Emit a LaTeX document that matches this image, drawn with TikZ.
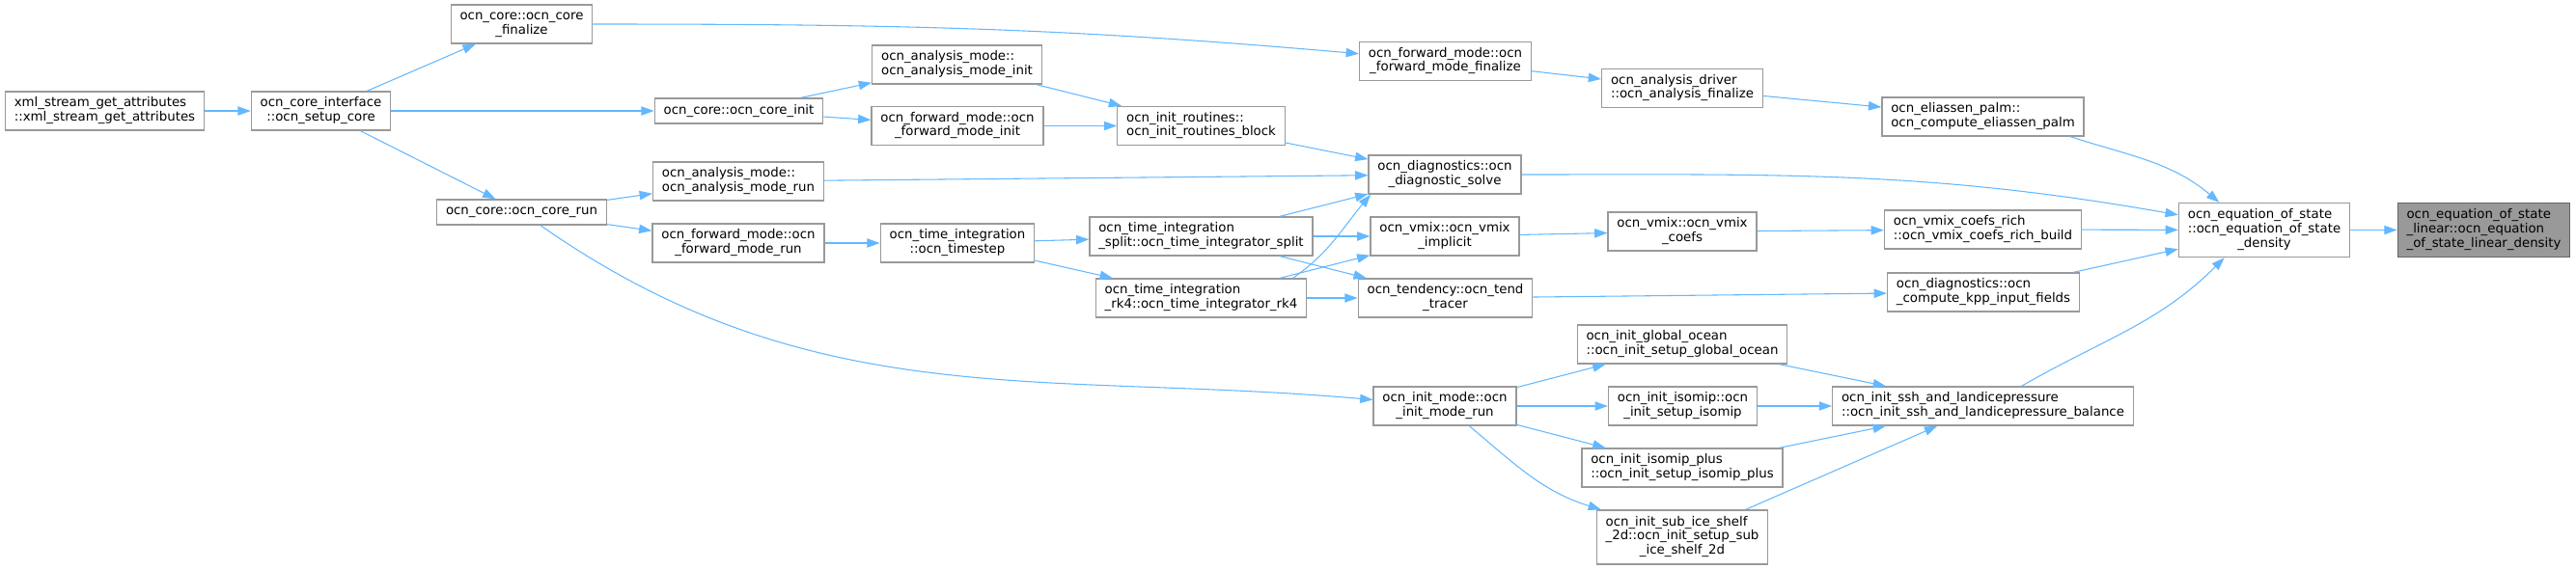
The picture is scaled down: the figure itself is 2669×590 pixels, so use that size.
\documentclass[tikz,border=0pt]{standalone}
\usepackage{fontspec}
\setmainfont{DejaVu Sans}
\usetikzlibrary{arrows.meta}
\definecolor{edgeblue}{HTML}{63B8FF}
\definecolor{boxgray}{HTML}{999999}
\definecolor{rootgray}{HTML}{666666}
\newcommand{\fnlab}[2]{\begin{tabular}{@{}l@{}}#1\\\multicolumn{1}{@{}c@{}}{#2}\end{tabular}}
\newcommand{\fnlabiii}[3]{\begin{tabular}{@{}l@{}}#1\\#2\\\multicolumn{1}{@{}c@{}}{#3}\end{tabular}}
\begin{document}
\begin{tikzpicture}[x=0.75pt,y=0.75pt,
  fn/.style={draw=boxgray, line width=1pt, fill=white, inner xsep=7pt, inner ysep=4pt,
    minimum height=30pt, font=\fontsize{10}{11}\selectfont},
  fnone/.style={fn, minimum height=19.5pt},
  fnthree/.style={fn, minimum height=42pt},
  edge/.style={draw=edgeblue, line width=0.8pt, -{Triangle[length=10pt,width=7pt]}}]
\useasboundingbox (0,0) rectangle (2669,-590);
\node[fn] (xml) at (108.5,-115) {\fnlab{xml\_stream\_get\_attributes}{::xml\_stream\_get\_attributes}};
\node[fn] (setup) at (332.5,-115) {\fnlab{ocn\_core\_interface}{::ocn\_setup\_core}};
\node[fn] (corefin) at (540.5,-25) {\fnlab{ocn\_core::ocn\_core}{\_finalize}};
\node[fnone] (corerun) at (540.5,-220) {ocn\_core::ocn\_core\_run};
\node[fnone] (coreinit) at (765.5,-115) {ocn\_core::ocn\_core\_init};
\node[fn] (anainit) at (991.5,-67) {\fnlab{ocn\_analysis\_mode::}{ocn\_analysis\_mode\_init}};
\node[fn] (fwdinit) at (992,-130.5) {\fnlab{ocn\_forward\_mode::ocn}{\_forward\_mode\_init}};
\node[fn] (initblk) at (1244.5,-130.5) {\fnlab{ocn\_init\_routines::}{ocn\_init\_routines\_block}};
\node[fn] (anarun) at (765,-188) {\fnlab{ocn\_analysis\_mode::}{ocn\_analysis\_mode\_run}};
\node[fn] (fwdrun) at (765,-252) {\fnlab{ocn\_forward\_mode::ocn}{\_forward\_mode\_run}};
\node[fn] (tstep) at (992,-252) {\fnlab{ocn\_time\_integration}{::ocn\_timestep}};
\node[fn] (tsplit) at (1244.5,-245) {\fnlab{ocn\_time\_integration}{\_split::ocn\_time\_integrator\_split}};
\node[fn] (trk4) at (1244.5,-309) {\fnlab{ocn\_time\_integration}{\_rk4::ocn\_time\_integrator\_rk4}};
\node[fn] (fwdfin) at (1497.5,-63.5) {\fnlab{ocn\_forward\_mode::ocn}{\_forward\_mode\_finalize}};
\node[fn] (diag) at (1497,-181) {\fnlab{ocn\_diagnostics::ocn}{\_diagnostic\_solve}};
\node[fn] (vimplicit) at (1497,-245) {\fnlab{ocn\_vmix::ocn\_vmix}{\_implicit}};
\node[fn] (tend) at (1497.5,-309) {\fnlab{ocn\_tendency::ocn\_tend}{\_tracer}};
\node[fn] (initrun) at (1497,-421) {\fnlab{ocn\_init\_mode::ocn}{\_init\_mode\_run}};
\node[fn] (anafin) at (1743,-91.5) {\fnlab{ocn\_analysis\_driver}{::ocn\_analysis\_finalize}};
\node[fn] (vcoefs) at (1743,-240) {\fnlab{ocn\_vmix::ocn\_vmix}{\_coefs}};
\node[fn] (globocn) at (1743,-357) {\fnlab{ocn\_init\_global\_ocean}{::ocn\_init\_setup\_global\_ocean}};
\node[fn] (isomip) at (1743.5,-421) {\fnlab{ocn\_init\_isomip::ocn}{\_init\_setup\_isomip}};
\node[fn] (isoplus) at (1743,-485) {\fnlab{ocn\_init\_isomip\_plus}{::ocn\_init\_setup\_isomip\_plus}};
\node[fnthree] (subshelf) at (1743,-557) {\fnlabiii{ocn\_init\_sub\_ice\_shelf}{\_2d::ocn\_init\_setup\_sub}{\_ice\_shelf\_2d}};
\node[fn] (eliassen) at (2054.5,-121) {\fnlab{ocn\_eliassen\_palm::}{ocn\_compute\_eliassen\_palm}};
\node[fn] (vrich) at (2054.5,-238) {\fnlab{ocn\_vmix\_coefs\_rich}{::ocn\_vmix\_coefs\_rich\_build}};
\node[fn] (kpp) at (2055,-303) {\fnlab{ocn\_diagnostics::ocn}{\_compute\_kpp\_input\_fields}};
\node[fn] (sshbal) at (2054.5,-421) {\fnlab{ocn\_init\_ssh\_and\_landicepressure}{::ocn\_init\_ssh\_and\_landicepressure\_balance}};
\node[fnthree] (eos) at (2346,-238.5) {\fnlabiii{ocn\_equation\_of\_state}{::ocn\_equation\_of\_state}{\_density}};
\node[fnthree, fill=boxgray, draw=rootgray] (eoslin) at (2573.5,-238.5) {\fnlabiii{ocn\_equation\_of\_state}{\_linear::ocn\_equation}{\_of\_state\_linear\_density}};
\draw[edge] (xml) -- (setup);
\draw[edge] (setup) -- (corefin);
\draw[edge] (setup) -- (coreinit);
\draw[edge] (setup) -- (corerun);
\draw[edge] (corefin) to[out=0,in=175] (fwdfin);
\draw[edge] (coreinit) -- (anainit);
\draw[edge] (coreinit) -- (fwdinit);
\draw[edge] (anainit) -- (initblk);
\draw[edge] (fwdinit) -- (initblk);
\draw[edge] (corerun) -- (anarun);
\draw[edge] (corerun) -- (fwdrun);
\draw[edge] (corerun) to[out=-35,in=175] (initrun);
\draw[edge] (initblk) -- (diag);
\draw[edge] (anarun) -- (diag);
\draw[edge] (fwdrun) -- (tstep);
\draw[edge] (tstep) -- (tsplit);
\draw[edge] (tstep) -- (trk4);
\draw[edge] (tsplit) -- (diag);
\draw[edge] (tsplit) -- (vimplicit);
\draw[edge] (tsplit) -- (tend);
\draw[edge] ([xshift=-11pt]trk4.north east) to[out=35,in=-130] ([xshift=2pt]diag.south west);
\draw[edge] (trk4) -- (vimplicit);
\draw[edge] (trk4) -- (tend);
\draw[edge] (fwdfin) -- (anafin);
\draw[edge] (anafin) -- (eliassen);
\draw[edge] (diag) to[out=0,in=170] (eos);
\draw[edge] (vimplicit) -- (vcoefs);
\draw[edge] (vcoefs) -- (vrich);
\draw[edge] (tend) -- (kpp);
\draw[edge] (initrun) -- (globocn);
\draw[edge] (initrun) -- (isomip);
\draw[edge] (initrun) -- (isoplus);
\draw[edge] ([xshift=19pt]initrun.south) to[out=-40,in=163] ([xshift=4pt]subshelf.north west);
\draw[edge] (globocn) -- (sshbal);
\draw[edge] (isomip) -- (sshbal);
\draw[edge] (isoplus) -- (sshbal);
\draw[edge] (subshelf) -- (sshbal);
\draw[edge] ([xshift=-11pt]eliassen.south east) to[out=-18,in=140] ([xshift=-35pt]eos.north);
\draw[edge] (vrich) -- (eos);
\draw[edge] (kpp) -- (eos);
\draw[edge] ([xshift=30pt]sshbal.north) to[out=30,in=-135] ([xshift=-31pt]eos.south);
\draw[edge] (eos) -- (eoslin);
\end{tikzpicture}
\end{document}
